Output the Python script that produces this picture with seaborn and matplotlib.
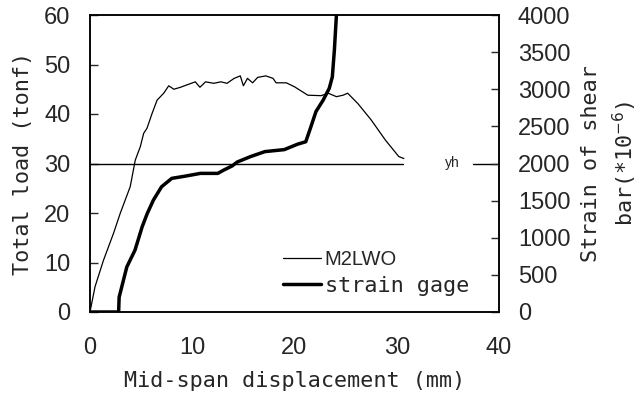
import matplotlib
matplotlib.use("Agg")
import matplotlib.pyplot as plt
from matplotlib import font_manager
import seaborn as sns
import pandas as pd

# Load-displacement curve (M2LWO)
disp_load = [0, 0.49, 1.31, 2.3, 2.95, 3.93, 4.43, 4.92, 5.25, 5.57, 6.07, 6.56, 7.21, 7.7,
             8.2, 8.85, 9.5, 10.3, 10.75, 11.3, 12.1, 12.8, 13.4, 14.1, 14.7, 15.0, 15.4, 15.9,
             16.4, 17.2, 17.9, 18.2, 19.2, 20.0, 21.3, 22.6, 23.3, 24.1, 24.75, 25.2, 26.2,
             27.5, 28.9, 30.2, 30.7]
load = [0, 5.1, 10.4, 15.9, 19.9, 25.3, 30.7, 33.4, 36.1, 37.1, 40.1, 42.8, 44.2, 45.7,
        45.0, 45.4, 45.9, 46.5, 45.4, 46.5, 46.2, 46.5, 46.2, 47.2, 47.7, 45.7, 47.2, 46.3,
        47.4, 47.7, 47.2, 46.3, 46.3, 45.5, 43.8, 43.7, 44.2, 43.5, 43.8, 44.2, 42.1,
        38.8, 34.7, 31.4, 31.0]

# Strain gage curve (x10^-6)
disp_strain = [0, 2.1, 2.8, 2.85, 3.6, 4.4, 5.1, 5.6, 6.2, 7.0, 8.0, 9.2, 10.8, 12.5, 13.1, 13.9,
               14.4, 15.7, 17.1, 19.0, 20.3, 21.1, 21.6, 22.1, 22.8, 23.4, 23.7, 23.9, 24.1]
strain = [0, 0, 0, 200, 607, 833, 1147, 1327, 1507, 1687, 1800, 1827, 1867, 1867, 1913, 1967,
          2020, 2093, 2160, 2187, 2260, 2293, 2493, 2700, 2853, 3013, 3167, 3527, 4000]

yield_load = 30
x_ticks = [0, 10, 20, 30, 40]
y_ticks = [0, 10, 20, 30, 40, 50, 60]
y2_ticks = [0, 500, 1000, 1500, 2000, 2500, 3000, 3500, 4000]

sns.set_style("white")
plt.rcParams['font.family'] = ['Liberation Sans', 'DejaVu Sans']
mono = 'DejaVu Sans Mono'
available = {f.name for f in font_manager.fontManager.ttflist}
narrow = 'Liberation Sans Narrow' if 'Liberation Sans Narrow' in available else 'Liberation Sans'
narrow_size = 17 if narrow == 'Liberation Sans Narrow' else 14.5

fig = plt.figure(figsize=(6.42, 4.09), dpi=100)
ax = fig.add_axes([90 / 642, 1 - 312 / 409, 409 / 642, 297 / 409])
ax2 = ax.twinx()

df1 = pd.DataFrame({"x": disp_load, "y": load})
df2 = pd.DataFrame({"x": disp_strain, "y": strain})
sns.lineplot(data=df1, x="x", y="y", ax=ax, color="black", linewidth=0.9, sort=False,
             legend=False)
sns.lineplot(data=df2, x="x", y="y", ax=ax2, color="black", linewidth=2.5, sort=False,
             legend=False)

ax.plot([0, 30.6], [yield_load, yield_load], color="black", lw=1.0)
ax.plot([37.5, 40], [yield_load, yield_load], color="black", lw=1.0)
ax.text(35.4, yield_load, "yh", fontsize=10, ha="center", va="center", family=narrow)

ax.set_xlim(0, 40)
ax.set_ylim(0, 60)
ax2.set_ylim(0, 4000)
ax.set_xticks(x_ticks)
ax.set_yticks(y_ticks)
ax2.set_yticks(y2_ticks)
ax.tick_params(axis="x", direction="in", labelsize=17, length=6, width=1, pad=18)
ax.tick_params(axis="y", direction="in", labelsize=17, length=6, width=1, pad=14)
ax2.tick_params(axis="y", direction="in", labelsize=17, length=6, width=1, pad=13.5)
for a in (ax, ax2):
    for s in a.spines.values():
        s.set_visible(True)
        s.set_color("black")
        s.set_linewidth(1.1)

ax.set_xlabel("Mid-span displacement (mm)", fontsize=15.7, family=mono)
ax.xaxis.set_label_coords(0.5, -0.20)
ax.set_ylabel("Total load (tonf)", fontsize=15.7, family=mono)
ax.yaxis.set_label_coords(-0.139, 0.5)
ax2.set_ylabel("Strain of shear\nbar(*10$^{-6}$)", fontsize=15.7, family=mono, rotation=90,
               linespacing=1.45)
ax2.yaxis.set_label_coords(1.20, 0.5)

h1 = [plt.Line2D([], [], color="black", lw=0.9)]
h2 = [plt.Line2D([], [], color="black", lw=2.5)]
leg = ax2.legend(h1 + h2, ["M2LWO", "strain gage"], loc="lower left",
                 bbox_to_anchor=((276 - 90) / 409 - 0.02, (312 - 311) / 297),
                 frameon=False, prop={"family": mono, "size": 15.7}, handlelength=1.75,
                 handletextpad=0.15, labelspacing=0.3, borderpad=0.2)
t0 = leg.get_texts()[0]
t0.set_family(narrow)
t0.set_fontsize(narrow_size)

fig.savefig("out.png", dpi=100)
